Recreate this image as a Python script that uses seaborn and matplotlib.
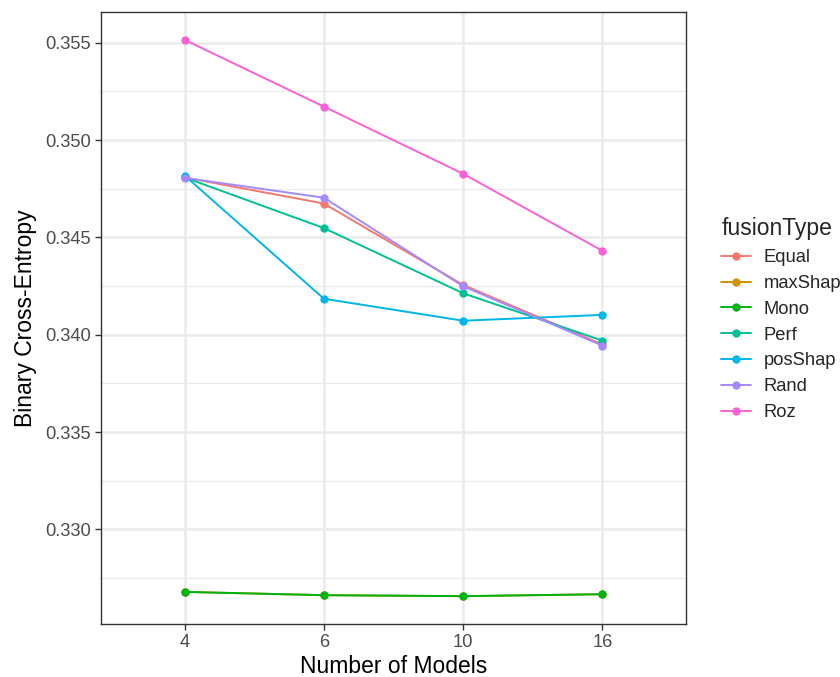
import matplotlib
matplotlib.use("Agg")
import matplotlib.pyplot as plt
from matplotlib.lines import Line2D
from matplotlib.ticker import MultipleLocator
import seaborn as sns
import pandas as pd

models = ["4", "6", "10", "16"]
fusion_types = ["Equal", "maxShap", "Mono", "Perf", "posShap", "Rand", "Roz"]
equal = [0.34808, 0.34674, 0.34256, 0.33950]
maxshap = [0.32679, 0.32662, 0.32657, 0.32667]
mono = [0.32679, 0.32662, 0.32657, 0.32667]
perf = [0.34808, 0.34548, 0.34213, 0.33970]
posshap = [0.34818, 0.34185, 0.34072, 0.34102]
rand = [0.34806, 0.34704, 0.34249, 0.33944]
roz = [0.35515, 0.35172, 0.34827, 0.34431]
colors = ["#F8766D", "#D39200", "#00B312", "#00C094", "#00B6EB", "#A58AFF", "#FB61D7"]

series = [equal, maxshap, mono, perf, posshap, rand, roz]
rows = []
for name, vals in zip(fusion_types, series):
    for m, v in zip(models, vals):
        rows.append({"models": m, "bce": v, "fusionType": name})
df = pd.DataFrame(rows)

sns.set_theme(style="white")
plt.rcParams["font.family"] = ["Liberation Sans", "DejaVu Sans"]

fig = plt.figure(figsize=(8.4, 6.77), dpi=100)
ax = fig.add_axes([101 / 840, 1 - 624 / 677, (686 - 101) / 840, (624 - 12) / 677])

palette = dict(zip(fusion_types, colors))
df["xpos"] = df["models"].map({m: i for i, m in enumerate(models)})
sns.lineplot(data=df, x="xpos", y="bce", hue="fusionType", hue_order=fusion_types,
             palette=palette, marker="o", markersize=6, markeredgewidth=0,
             linewidth=1.4, sort=False, ax=ax, legend=False, zorder=3)

ax.set_xlim(-0.6, 3.6)
ax.set_ylim(0.32514, 0.35658)
ax.set_xticks(range(len(models)))
ax.set_xticklabels(models)
ax.yaxis.set_major_locator(MultipleLocator(0.005))
ax.yaxis.set_minor_locator(MultipleLocator(0.0025))
ax.set_yticklabels([f"{t:.3f}" for t in ax.get_yticks()])
ax.set_ylim(0.32514, 0.35658)

ax.grid(True, which="major", color="#EBEBEB", linewidth=1.8, zorder=0)
ax.grid(True, which="minor", axis="y", color="#EBEBEB", linewidth=0.9, zorder=0)
ax.set_axisbelow(True)
for s in ax.spines.values():
    s.set_color("#333333")
    s.set_linewidth(1.0)

ax.tick_params(axis="both", which="major", length=4, width=1, color="#333333",
               labelsize=13.2, labelcolor="#4D4D4D", pad=3, bottom=True, left=True)
ax.tick_params(axis="y", which="minor", length=0)

ax.set_xlabel("Number of Models", fontsize=16.5, color="black", labelpad=3)
ax.set_ylabel("Binary Cross-Entropy", fontsize=16.5, color="black", labelpad=6)

handles = [Line2D([0], [0], color=c, marker="o", markersize=6, markeredgewidth=0,
                  linewidth=1.4) for c in colors]
leg = fig.legend(handles, fusion_types, title="fusionType", loc="upper left",
                 bbox_to_anchor=(714 / 840, 1 - 210 / 677), frameon=False,
                 fontsize=13.2, title_fontsize=16.5, handlelength=1.6,
                 handletextpad=0.7, labelspacing=0.48, borderaxespad=0)
leg._legend_box.align = "left"

fig.savefig("out.png", dpi=100)
